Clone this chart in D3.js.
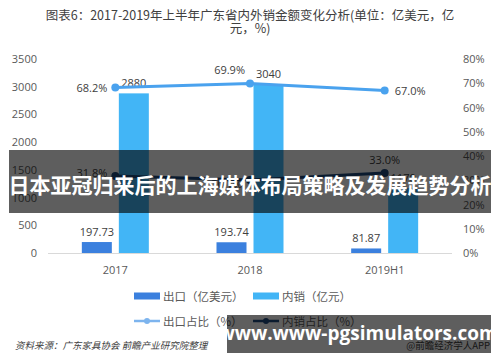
<!DOCTYPE html>
<html>
<head>
<meta charset="utf-8">
<script src="https://cdn.jsdelivr.net/npm/d3@7"></script>
<style>
  body { margin: 0; background: #fff; }
  svg { display: block; font-family: "Noto Sans CJK SC", "Noto Sans", sans-serif; }
</style>
</head>
<body>
<div id="chart"></div>
<script>
// 数据
const categories = ["2017", "2018", "2019H1"];
const exportValues = [197.73, 193.74, 81.87];     // 出口（亿美元）
const domesticValues = [2880, 3040, 1170];        // 内销（亿元）
const exportShare = [68.2, 69.9, 67.0];           // 出口占比（%）
const domesticShare = [31.8, 30.1, 33.0];         // 内销占比（%）
const leftTicks = [0, 500, 1000, 1500, 2000, 2500, 3000, 3500];
const rightTicks = [0, 10, 20, 30, 40, 50, 60, 70, 80];

const width = 500, height = 362;
const colExport = "#3b80de", colDomestic = "#42b5f6";
const colExportLine = "#4aa2ee", colDomesticLine = "#1f4a7c";

const svg = d3.select("#chart").append("svg")
    .attr("width", width)
    .attr("height", height);

// 标题
const title = svg.append("g").attr("fill", "#404040").attr("font-size", 12.5).attr("text-anchor", "middle");
title.append("text").attr("x", 250).attr("y", 20).text("图表6：2017-2019年上半年广东省内外销金额变化分析(单位：亿美元，亿");
title.append("text").attr("x", 250).attr("y", 33).text("元，%)");

const x = d3.scaleBand().domain(categories).range([48, 452]);
const yL = d3.scaleLinear().domain([0, 3500]).range([253, 59]);
const yR = d3.scaleLinear().domain([0, 80]).range([253, 59]);
const barW = 30, off = 18.5;
const cx = d => x(d) + x.bandwidth() / 2;

// 坐标轴
const axL = svg.append("g").attr("transform", "translate(40,0)")
    .call(d3.axisLeft(yL).tickValues(leftTicks).tickSize(0).tickPadding(3).tickFormat(d3.format("d")));
const axR = svg.append("g").attr("transform", "translate(460,0)")
    .call(d3.axisRight(yR).tickValues(rightTicks).tickSize(0).tickPadding(3).tickFormat(d => d + "%"));
const axB = svg.append("g").attr("transform", "translate(0,253)")
    .call(d3.axisBottom(x).tickSize(0).tickPadding(13));
[axL, axR, axB].forEach(a => {
    a.select(".domain").remove();
    a.selectAll("text").attr("fill", "#595959").attr("font-size", 11).attr("font-family", "Open Sans, sans-serif");
});
svg.append("line").attr("x1", 48).attr("x2", 452).attr("y1", 253.5).attr("y2", 253.5)
    .attr("stroke", "#d9d9d9").attr("stroke-width", 1);

// 柱子
svg.append("g").selectAll("rect").data(categories).join("rect")
    .attr("x", (d) => cx(d) - off - barW / 2)
    .attr("width", barW)
    .attr("y", (d, i) => yL(exportValues[i]))
    .attr("height", (d, i) => 253 - yL(exportValues[i]))
    .attr("fill", colExport);
svg.append("g").selectAll("rect").data(categories).join("rect")
    .attr("x", (d) => cx(d) + off - barW / 2)
    .attr("width", barW)
    .attr("y", (d, i) => yL(domesticValues[i]))
    .attr("height", (d, i) => 253 - yL(domesticValues[i]))
    .attr("fill", colDomestic);

const labels = svg.append("g").attr("fill", "#404040").attr("font-size", 11).attr("font-family", "Open Sans, sans-serif");
labels.selectAll(".ev").data(categories).join("text")
    .attr("text-anchor", "middle")
    .attr("x", d => cx(d) - off)
    .attr("y", (d, i) => yL(exportValues[i]) - 6)
    .text((d, i) => exportValues[i]);
labels.selectAll(".dv").data(categories).join("text")
    .attr("text-anchor", "middle")
    .attr("x", d => cx(d) + off)
    .attr("y", (d, i) => yL(domesticValues[i]) - 6)
    .text((d, i) => domesticValues[i]);

// 折线
const line = d3.line().x((d, i) => cx(categories[i])).y(d => yR(d));
[[exportShare, colExportLine], [domesticShare, colDomesticLine]].forEach(([vals, c]) => {
    svg.append("path").datum(vals).attr("d", line)
        .attr("fill", "none").attr("stroke", c).attr("stroke-width", 3);
    svg.append("g").selectAll("circle").data(vals).join("circle")
        .attr("cx", (d, i) => cx(categories[i])).attr("cy", d => yR(d))
        .attr("r", 4).attr("fill", c);
});
// 百分比标签
const pctLabel = (vals, pos) => {
    labels.selectAll(null).data(vals).join("text")
        .attr("text-anchor", (d, i) => pos[i][2])
        .attr("x", (d, i) => cx(categories[i]) + pos[i][0])
        .attr("y", (d, i) => yR(d) + pos[i][1])
        .text(d => d.toFixed(1) + "%");
};
pctLabel(exportShare, [[-8, 4, "end"], [-5, -9, "end"], [10, 4, "start"]]);
pctLabel(domesticShare, [[-8, 1, "end"], [-8, 8, "end"], [0, -9, "middle"]]);

// 图例
const lg = svg.append("g").attr("font-size", 11.5).attr("fill", "#595959");
const legendItems = [
    {label: "出口（亿美元）", c: colExport, t: "rect", x: 134, y: 296},
    {label: "内销（亿元）", c: colDomestic, t: "rect", x: 253, y: 296},
    {label: "出口占比（%）", c: "#7db4ee", t: "line", x: 134, y: 321},
    {label: "内销占比（%）", c: colDomesticLine, t: "line", x: 253, y: 321}
];
legendItems.forEach(it => {
    if (it.t === "rect") {
        lg.append("rect").attr("x", it.x).attr("y", it.y - 3.5).attr("width", 26).attr("height", 7).attr("fill", it.c);
    } else {
        lg.append("line").attr("x1", it.x).attr("x2", it.x + 26).attr("y1", it.y).attr("y2", it.y)
            .attr("stroke", it.c).attr("stroke-width", 2.5);
        lg.append("circle").attr("cx", it.x + 13).attr("cy", it.y).attr("r", 3).attr("fill", it.c);
    }
    lg.append("text").attr("x", it.x + 29).attr("y", it.y + 4.5).text(it.label);
});

// 来源
svg.append("text").attr("x", 15).attr("y", 349).attr("font-size", 9.5).attr("font-style", "italic")
    .attr("fill", "#404040").text("资料来源：广东家具协会 前瞻产业研究院整理");
svg.append("text").attr("x", 490).attr("y", 349).attr("font-size", 9.5).attr("text-anchor", "end")
    .attr("fill", "#404040").text("@前瞻经济学人APP");

// 覆盖横幅
svg.append("rect").attr("x", 9).attr("y", 150).attr("width", 482).attr("height", 63)
    .attr("fill", "rgba(0,0,0,0.63)");
svg.append("text").attr("x", 250).attr("y", 193).attr("text-anchor", "middle")
    .attr("font-size", 21).attr("font-weight", "bold").attr("fill", "#fff")
    .text("日本亚冠归来后的上海媒体布局策略及发展趋势分析");
svg.append("rect").attr("x", 227).attr("y", 315).attr("width", 264).attr("height", 38)
    .attr("fill", "rgba(0,0,0,0.63)");
svg.append("text").attr("x", 358).attr("y", 340).attr("text-anchor", "middle")
    .attr("font-size", 19).attr("font-weight", "bold").attr("fill", "#fff")
    .attr("font-family", "Open Sans, sans-serif")
    .text("www.www-pgsimulators.com");
</script>
</body>
</html>
